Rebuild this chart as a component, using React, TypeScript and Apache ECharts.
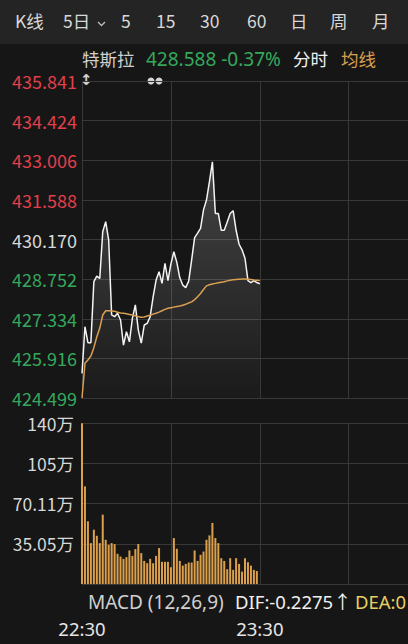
import React, { useEffect, useRef } from "react";
import * as echarts from "echarts";

// minute offsets from 22:30
const minutes: number[] = Array.from({ length: 61 }, (_, i) => i);

const prices: number[] = [
  425.38, 427.05, 426.48, 426.48, 428.66, 428.86, 428.78, 430.45, 430.81, 430.15,
  427.47, 427.41, 427.53, 427.29, 426.39, 426.87, 426.51, 427.35, 427.83, 426.93,
  426.46, 427.11, 427.17, 427.41, 428.12, 428.72, 429.02, 428.6, 429.32, 428.7,
  429.3, 429.73, 429.35, 428.8, 428.54, 428.45, 428.68, 429.44, 430.24, 430.4,
  430.57, 431.23, 431.58, 432.24, 432.95, 431.1, 431.1, 430.5, 430.5, 430.8,
  431.1, 431.2, 430.5, 430.0, 429.8, 429.5, 428.7, 428.63, 428.7, 428.63, 428.588,
];

const avgPrices: number[] = [
  424.49, 425.74, 425.86, 426.0, 426.3, 426.69, 427.0, 427.47, 427.62, 427.62,
  427.61, 427.6, 427.57, 427.54, 427.53, 427.51, 427.49, 427.47, 427.44, 427.41,
  427.39, 427.4, 427.43, 427.46, 427.5, 427.53, 427.57, 427.62, 427.67, 427.71,
  427.73, 427.75, 427.77, 427.79, 427.82, 427.85, 427.9, 427.94, 428.02, 428.12,
  428.24, 428.38, 428.51, 428.55, 428.58, 428.6, 428.62, 428.64, 428.66, 428.69,
  428.71, 428.73, 428.74, 428.75, 428.76, 428.76, 428.75, 428.74, 428.72, 428.71, 428.7,
];

// volume in 万
const volumes: number[] = [
  140, 85, 54.6, 35.6, 47.3, 42, 35.6, 60.4, 38.5, 34.2,
  35.6, 34.7, 26.3, 23.9, 21.9, 23.4, 29.2, 24.5, 30.4, 34.8,
  26.9, 20.1, 18.1, 21.9, 18.1, 24.5, 31.3, 19.3, 19.3, 19.3,
  14.6, 40.0, 30.7, 20.1, 16.0, 17.5, 18.7, 18.7, 29.2, 20.1,
  25.4, 28.3, 38.5, 42.3, 53.2, 40.0, 35.6, 22.5, 20.1, 12.9,
  22.5, 12.3, 22.5, 17.5, 10.8, 22.5, 19.0, 16.0, 12.3, 11.4,
];

const priceTickLabels: string[] = [
  "424.499", "425.916", "427.334", "428.752", "430.170",
  "431.588", "433.006", "434.424", "435.841",
];
const prevClose = "430.170";
const volTickLabels: string[] = ["", "35.05万", "70.11万", "105万", "140万"];
const timeTickLabels: string[] = ["22:30", "", "23:30", ""];

const tabs: string[] = ["K线", "5日", "5", "15", "30", "60", "日", "周", "月"];
const tabX: number[] = [15, 63, 121, 156, 200, 247, 290, 330, 372];

const PRICE_MIN = 424.499;
const PRICE_MAX = 435.841;
const VOL_MAX = 140.22;

const FONT = "'Noto Sans CJK SC', 'Noto Sans', sans-serif";
const NUMFONT = "'Noto Sans', 'Noto Sans CJK SC', sans-serif";
const GRID_COLOR = "#383838";
const RED = "#e0404c";
const GREEN = "#35a85c";

export default function App() {
  const ref = useRef<HTMLDivElement>(null);

  useEffect(() => {
    if (!ref.current) return;
    const chart = echarts.init(ref.current, undefined, { renderer: "svg" });

    const tabTexts = tabs.map((t, i) => ({
      type: "text",
      left: tabX[i],
      top: 12,
      style: { text: t, fill: "#d8d8d8", font: `17.5px ${FONT}` },
    }));

    const option: any = {
      animation: false,
      backgroundColor: "#161616",
      grid: [
        { left: 82, right: 0, top: 81, height: 317, outerBoundsMode: "none", containLabel: false },
        { left: 82, right: 0, top: 423, height: 161, outerBoundsMode: "none", containLabel: false },
      ],
      xAxis: [
        {
          type: "value", gridIndex: 0, min: 0, max: 110, interval: 30,
          axisLine: { show: false }, axisTick: { show: false }, axisLabel: { show: false },
          splitLine: { show: true, lineStyle: { color: GRID_COLOR, width: 1 } },
        },
        {
          type: "value", gridIndex: 1, min: 0, max: 110, interval: 30,
          axisLine: { show: false }, axisTick: { show: false },
          axisLabel: {
            show: true, margin: 35, fontSize: 18.5, fontFamily: NUMFONT, color: "#e6e6e6",
            formatter: (v: number) => {
              const idx = Math.round(v / 30);
              return v % 30 === 0 ? timeTickLabels[idx] || "" : "";
            },
          },
          splitLine: { show: true, lineStyle: { color: GRID_COLOR, width: 1 } },
        },
      ],
      yAxis: [
        { type: "value", gridIndex: 0, min: PRICE_MIN, max: PRICE_MAX, show: false, position: "left" },
        {
          type: "value", gridIndex: 0, min: 0, max: 8, interval: 1, position: "left",
          axisLine: { show: false }, axisTick: { show: false },
          axisLabel: {
            show: true, margin: 5, fontSize: 18, fontFamily: FONT,
            formatter: (v: number) => priceTickLabels[v] ?? "",
            color: (v: any) => {
              const idx = Number(v);
              const lab = priceTickLabels[idx];
              if (lab === prevClose) return "#d8d8d8";
              return idx > 4 ? RED : GREEN;
            },
          },
          splitLine: { show: true, lineStyle: { color: GRID_COLOR, width: 1 } },
        },
        { type: "value", gridIndex: 1, min: 0, max: VOL_MAX, show: false, position: "left" },
        {
          type: "value", gridIndex: 1, min: 0, max: 4, interval: 1, position: "left",
          axisLine: { show: false }, axisTick: { show: false },
          axisLabel: {
            show: true, margin: 8, fontSize: 17.5, fontFamily: FONT, color: "#d8d8d8",
            formatter: (v: number) => volTickLabels[v] ?? "",
          },
          splitLine: { show: true, lineStyle: { color: GRID_COLOR, width: 1 } },
        },
      ],
      series: [
        {
          type: "line", xAxisIndex: 0, yAxisIndex: 0,
          data: minutes.map((m, i) => [m, prices[i]]),
          showSymbol: false, symbol: "none",
          lineStyle: { color: "#f4f4f4", width: 1.5 },
          areaStyle: {
            color: new echarts.graphic.LinearGradient(0, 0, 0, 1, [
              { offset: 0, color: "rgba(255,255,255,0.28)" },
              { offset: 1, color: "rgba(255,255,255,0.03)" },
            ]),
          },
          z: 3,
        },
        {
          type: "line", xAxisIndex: 0, yAxisIndex: 0,
          data: minutes.map((m, i) => [m, avgPrices[i]]),
          showSymbol: false, symbol: "none",
          lineStyle: { color: "#d9a052", width: 1.5 },
          z: 4,
        },
        {
          type: "bar", xAxisIndex: 1, yAxisIndex: 2,
          data: volumes.map((v, i) => [minutes[i], v]),
          barWidth: 2,
          itemStyle: { color: "#dca04c" },
        },
      ],
      graphic: [
        { type: "rect", shape: { x: 0, y: 0, width: 408, height: 44 }, style: { fill: "#242424" }, z: -1 },
        ...tabTexts,
        {
          type: "polyline",
          shape: { points: [[98, 22], [101.5, 25.5], [105, 22]] },
          style: { stroke: "#bdbdbd", lineWidth: 1.3, fill: null },
        },
        { type: "text", left: 82, top: 50, style: { text: "特斯拉", fill: "#d0d0d0", font: `17.5px ${FONT}` } },
        { type: "text", left: 146, top: 49, style: { text: "428.588 -0.37%", fill: GREEN, font: `19px ${NUMFONT}` } },
        { type: "text", left: 293, top: 50, style: { text: "分时", fill: "#f0f0f0", font: `17.5px ${FONT}` } },
        { type: "text", left: 341, top: 50, style: { text: "均线", fill: "#d9a052", font: `17.5px ${FONT}` } },
        { type: "text", left: 80, top: 72, style: { text: "↕", fill: "#d0d0d0", font: `bold 15px 'DejaVu Sans'` } },
        { type: "circle", shape: { cx: 151, cy: 81, r: 3.5 }, style: { fill: "#d6d6d6" } },
        { type: "circle", shape: { cx: 159, cy: 81, r: 3.5 }, style: { fill: "#d6d6d6" } },
        { type: "text", left: 88, top: 592, style: { text: "MACD (12,26,9)", fill: "#d0d0d0", font: `19px ${NUMFONT}` } },
        { type: "text", left: 235, top: 592, style: { text: "DIF:-0.2275↑", fill: "#f0f0f0", font: `18.5px ${NUMFONT}` } },
        { type: "text", left: 355, top: 592, style: { text: "DEA:0", fill: "#e6cf62", font: `18.5px ${NUMFONT}` } },
      ],
    };

    chart.setOption(option);
    return () => chart.dispose();
  }, []);

  return (
    <div
      ref={ref}
      style={{ position: "fixed", left: 0, top: 0, width: 408, height: 644 }}
    />
  );
}
